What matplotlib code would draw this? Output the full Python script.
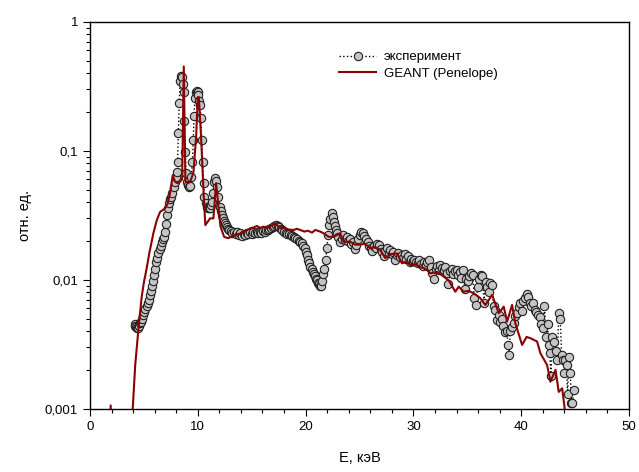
import matplotlib
matplotlib.use("Agg")
import matplotlib.pyplot as plt
from matplotlib.ticker import FixedLocator, MultipleLocator, LogLocator, NullFormatter

plt.rcParams['font.family'] = ['Liberation Sans', 'DejaVu Sans']

# ---- experiment ----
exp_e = [4.15,4.22,4.3,4.38,4.46,4.55,4.65,4.75,4.85,4.95,5.05,5.15,5.25,5.35,5.45,5.55,5.65,5.75,5.85,5.95,
         6.05,6.15,6.25,6.35,6.45,6.55,6.65,6.75,6.85,6.95,7.05,7.15,7.25,7.35,7.45,7.55,7.65,7.75,7.85,7.95,8.05,8.12,
         8.2,8.28,8.36,8.44,8.52,8.6,8.68,8.76,8.84,8.92,9.0,9.1,9.2,9.3,9.4,9.5,9.58,9.65,9.73,9.82,9.9,9.98,
         10.06,10.14,10.21,10.28,10.37,10.46,10.54,10.62,10.72,10.82,10.92,11.02,11.12,11.22,11.32,11.42,11.52,
         11.62,11.72,11.82,11.92,12.02,12.12,12.22,12.32,12.42,12.52,12.62,12.72,12.82,12.92,
         13.05,13.2,13.35,13.5,13.65,13.8,13.95,14.1,14.25,14.4,14.55,14.7,14.85,15.0,15.15,15.3,15.45,15.6,15.75,
         15.9,16.05,16.2,16.35,16.5,16.65,16.8,16.95,17.1,17.25,17.4,17.55,17.7,17.85,18.0,18.15,18.3,18.45,18.6,
         18.75,18.9,19.05,19.2,19.35,19.5,19.65,19.8,19.95,20.05,20.15,20.25,20.35,20.45,20.55,20.65,20.75,20.85,
         20.95,21.05,21.15,21.25,21.35,21.45,21.55,21.65,21.75,21.85,21.98,22.08,22.18,22.3,22.42,22.52,22.62,
         22.72,22.82,22.92,
         23.05,23.2,23.35,23.5,23.65,23.8,23.95,24.1,24.25,24.4,24.55,24.7,24.85,25.0,25.15,25.3,25.45,25.6,25.75,
         25.9,26.05,26.2,26.35,26.5,26.65,26.8,26.95,27.1,27.25,27.4,27.55,27.7,27.85,28.0,28.15,28.3,28.45,28.6,
         28.75,28.9,29.05,29.2,29.35,29.5,29.65,29.8,29.95,30.1,30.25,30.4,30.55,30.7,30.85,31.0,31.15,31.3,31.45,
         31.6,31.75,31.9,32.05,32.2,32.35,32.5,32.65,32.8,32.95,33.1,33.25,33.4,33.55,33.7,33.85,34.0,34.15,34.3,
         34.45,34.6,34.75,34.9,35.05,35.2,35.35,35.5,35.65,35.8,35.95,36.1,36.25,36.4,36.55,36.7,36.85,37.0,37.15,
         37.3,37.45,37.6,37.75,37.9,38.05,38.2,38.35,38.5,38.65,38.8,38.85,39.0,39.15,39.3,39.45,39.6,39.75,39.9,
         40.05,40.2,40.35,40.5,40.65,40.8,40.95,41.1,41.25,41.4,41.55,41.7,41.85,42.0,42.15,42.3,42.45,42.55,42.65,
         42.75,42.9,43.05,43.2,43.35,43.48,43.62,43.75,43.9,44.0,44.1,44.2,44.3,44.42,44.55,44.65,44.75,44.88]
exp_y = [.0045,.0044,.0043,.0042,.0042,.0044,.0046,.0047,.0050,.0053,.0056,.0059,.0062,.0066,.0070,.0076,.0082,.0089,.0097,.0109,
         .0121,.0136,.0147,.0160,.0172,.0181,.0196,.0205,.0216,.0235,.0268,.0318,.036,.039,.042,.044,.047,.052,.057,.062,.068,.082,
         .136,.233,.347,.38,.37,.33,.287,.17,.097,.067,.057,.054,.0526,.0535,.063,.082,.121,.186,.255,.285,.29,.283,
         .27,.245,.226,.178,.121,.082,.056,.044,.039,.0368,.0357,.036,.0357,.038,.0403,.0468,.0575,
         .0611,.058,.0526,.044,.0368,.034,.0318,.030,.0285,.0275,.0265,.0255,.0248,.0243,
         .0238,.0232,.0235,.0228,.0233,.0224,.0229,.022,.0227,.0223,.023,.0225,.0233,.0228,.0235,.023,.0236,.0229,.0234,
         .0231,.0237,.0235,.0241,.0243,.0248,.0252,.0257,.0262,.0265,.0262,.0255,.0247,.0241,.0236,.0232,.0228,.0225,.0222,
         .0218,.0215,.0212,.0208,.0201,.0196,.0191,.0182,.0175,.0165,.0155,.0143,.0134,.0126,.0120,.0115,.0111,.0106,
         .0102,.0099,.0095,.0092,.0089,.0090,.0097,.0110,.0122,.0142,.0175,.0222,.0265,.0295,.0327,.0305,.0282,
         .026,.0245,.0232,
         .0215,.0195,.0208,.0222,.0203,.0214,.0198,.0205,.0188,.0196,.0172,.0185,.0205,.0222,.0236,.0232,.0218,.0206,.0196,
         .0183,.0175,.0168,.0182,.0176,.019,.0186,.0172,.0165,.0152,.0168,.0176,.0162,.017,.0158,.0164,.0143,.0155,.0162,
         .015,.0156,.0148,.0158,.0145,.0152,.0136,.0145,.014,.0143,.0137,.0134,.0141,.0132,.0127,.0136,.013,.0138,.0142,
         .0125,.0112,.0101,.0122,.0127,.0119,.013,.0124,.0118,.0126,.0113,.0092,.0116,.012,.0111,.0117,.0119,.0108,.0114,
         .0104,.0118,.0085,.0102,.0098,.0106,.0112,.0109,.0072,.0064,.0088,.0101,.0108,.0106,.0066,.0096,.0088,.0081,.0094,
         .0091,.0062,.0058,.0049,.0053,.0047,.0050,.0044,.0039,.0040,.0031,.0026,.0040,.0043,.0046,.0052,.0055,.0061,.0066,
         .0057,.0068,.0072,.0078,.0074,.0066,.0062,.0066,.0058,.0056,.0053,.0051,.0045,.0042,.0063,.0036,.0045,.0031,.0027,
         .0018,.0036,.0033,.0028,.0024,.0055,.0050,.0026,.0024,.0019,.0024,.0022,.0013,.0025,.0019,.0011,.0011,.0014]

# ---- GEANT (Penelope) ----
sim_e = [1.8,1.92,2.05,3.9,3.95,4.2,4.49,4.8,5.0,5.26,5.5,5.88,6.2,6.5,6.96,7.2,7.43,7.68,7.89,8.1,8.3,8.55,8.7,
         8.85,9.1,9.3,9.6,9.85,10.0,10.1,10.3,10.55,10.7,11.14,11.45,11.7,12.1,12.44,12.8,13.15,13.6,14.0,14.4,
         14.86,15.2,15.48,15.8,16.1,16.41,16.8,17.18,17.64,18.0,18.4,18.88,19.2,19.5,19.9,20.2,20.6,20.9,21.36,
         21.7,22.13,22.6,23.21,23.52,24.14,24.6,25.07,25.5,25.99,26.5,26.93,27.39,27.9,28.48,28.94,29.3,29.71,
         30.2,30.64,31.1,31.57,32.2,32.8,33.3,33.89,34.2,34.66,35.1,35.59,36.2,36.68,37.3,37.92,38.38,38.69,
         39.15,39.46,40.08,40.5,40.85,41.47,41.78,42.4,42.71,43.18,43.48,43.8,44.1]
sim_y = [.0005,.00106,.0005,.0005,.00095,.0022,.0041,.0074,.0095,.0123,.016,.0229,.029,.0335,.0357,.039,.0468,.0648,.0575,.056,.057,.06,.45,
         .058,.056,.0575,.068,.13,.26,.26,.13,.045,.0265,.0299,.0299,.056,.026,.0215,.021,.0215,.0225,.0228,.0238,
         .025,.0255,.0261,.0252,.0258,.025,.0262,.0274,.025,.0255,.0245,.0243,.0248,.0243,.0236,.024,.0232,.0243,.0236,
         .0228,.0215,.0215,.0229,.0197,.0197,.0187,.0187,.019,.0176,.0178,.017,.0147,.0158,.016,.0134,.0138,.013,
         .0132,.0125,.0122,.0112,.0115,.0106,.0098,.00807,.00883,.00807,.0082,.00785,.0072,.00637,.00762,.0055,.00618,.00472,
         .00637,.00459,.00312,.0036,.00352,.00332,.00269,.00218,.00162,.002,.00135,.00144,.0009]

fig = plt.figure(figsize=(6.39, 4.72), dpi=100)
ax = fig.add_axes([0.1408, 0.1341, 0.8436, 0.8199])

ax.plot(exp_e, exp_y, linestyle=':', color='black', linewidth=1.0,
        marker='o', markersize=6.0, markerfacecolor='#c4c4c4', markeredgecolor='#202020',
        markeredgewidth=0.8, label='эксперимент', zorder=2)
ax.plot(sim_e, sim_y, color='#8b0000', linewidth=1.5, label='GEANT (Penelope)', zorder=3)

ax.set_yscale('log')
ax.set_xlim(0, 50)
ax.set_ylim(0.001, 1)
ax.xaxis.set_major_locator(MultipleLocator(10))
ax.xaxis.set_minor_locator(MultipleLocator(2))
ax.yaxis.set_major_locator(FixedLocator([0.001, 0.01, 0.1, 1]))
ax.set_yticklabels(['0,001', '0,01', '0,1', '1'])
ax.yaxis.set_minor_locator(LogLocator(base=10, subs=[2, 3, 4, 5, 6, 7, 8, 9]))
ax.yaxis.set_minor_formatter(NullFormatter())

ax.tick_params(which='both', direction='out', labelsize=9.5, width=0.8)
ax.tick_params(which='major', length=5)
ax.tick_params(which='minor', length=3)
for s in ax.spines.values():
    s.set_linewidth(1.0)

ax.set_xlabel('E, кэВ', fontsize=10.5, labelpad=13)
ax.set_ylabel('отн. ед.', fontsize=10.5, labelpad=9)

ax.legend(loc='upper left', bbox_to_anchor=(0.44, 0.955), frameon=False, fontsize=9.5,
          handlelength=2.8, handletextpad=0.6, labelspacing=0.35, numpoints=1)

fig.savefig('out.png', dpi=100)
